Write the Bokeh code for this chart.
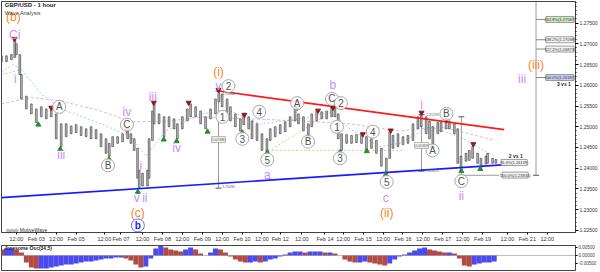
from bokeh.plotting import figure
from bokeh.layouts import column
from bokeh.models import ColumnDataSource, Range1d, FixedTicker, PrintfTickFormatter, Span, Label
from bokeh.core.properties import value
from bokeh.embed import file_html
from bokeh.resources import INLINE

FONT = "Liberation Sans"

# ---------------- data (hourly bar index, GBP/USD price) ----------------
candle_bar = [0, 3, 6, 8, 9, 11, 12, 15, 18, 21, 24, 27, 30, 33, 36, 39, 42, 45, 48, 51, 54, 57, 60, 63, 65, 67, 70, 73, 76, 78,
              80, 82, 83, 85, 88, 89, 91, 92, 95, 98, 101, 104, 106, 109, 112, 114, 117, 120, 123, 126, 129, 131, 133, 136, 138,
              141, 144, 146, 149, 151, 154, 157, 160, 162, 165, 168, 171, 174, 177, 179, 182, 185, 187, 190, 193, 196, 199, 201,
              203, 205, 208, 211, 214, 217, 220, 223, 226, 229, 232, 234, 236, 239, 242, 245, 248, 251, 253, 256, 258, 260, 263,
              265, 268, 270, 273, 275, 277, 280, 282, 284, 287, 289, 292, 293, 296, 298]
candle_high = [1.2671, 1.2671, 1.2674, 1.2709, 1.2700, 1.2674, 1.2626, 1.2574, 1.2555, 1.2543, 1.2548, 1.2543, 1.2548, 1.2531,
               1.2507, 1.2507, 1.2502, 1.2505, 1.2500, 1.2495, 1.2500, 1.2493, 1.2483, 1.2471, 1.2460, 1.2476, 1.2476, 1.2483,
               1.2493, 1.2483, 1.2471, 1.2448, 1.2395, 1.2388, 1.2395, 1.2471, 1.2538, 1.2555, 1.2531, 1.2524, 1.2524, 1.2519,
               1.2507, 1.2524, 1.2543, 1.2555, 1.2548, 1.2538, 1.2524, 1.2543, 1.2567, 1.2586, 1.2579, 1.2567, 1.2548, 1.2531,
               1.2519, 1.2529, 1.2524, 1.2514, 1.2507, 1.2483, 1.2471, 1.2495, 1.2500, 1.2505, 1.2512, 1.2524, 1.2543, 1.2531,
               1.2524, 1.2507, 1.2531, 1.2538, 1.2536, 1.2538, 1.2548, 1.2548, 1.2531, 1.2483, 1.2481, 1.2479, 1.2481, 1.2481,
               1.2476, 1.2471, 1.2467, 1.2448, 1.2424, 1.2488, 1.2479, 1.2483, 1.2476, 1.2479, 1.2507, 1.2524, 1.2531, 1.2524,
               1.2514, 1.2500, 1.2510, 1.2510, 1.2514, 1.2514, 1.2507, 1.2495, 1.2429, 1.2436, 1.2443, 1.2452, 1.2436, 1.2424,
               1.2429, 1.2436, 1.2424, 1.2421]
candle_low = [1.2657, 1.2657, 1.2662, 1.2667, 1.2674, 1.2626, 1.2567, 1.2543, 1.2531, 1.2510, 1.2524, 1.2519, 1.2524, 1.2471,
              1.2452, 1.2476, 1.2483, 1.2486, 1.2479, 1.2476, 1.2471, 1.2471, 1.2452, 1.2436, 1.2429, 1.2452, 1.2460, 1.2464,
              1.2471, 1.2460, 1.2443, 1.2376, 1.2352, 1.2357, 1.2357, 1.2376, 1.2467, 1.2507, 1.2507, 1.2476, 1.2500, 1.2495,
              1.2471, 1.2495, 1.2514, 1.2524, 1.2524, 1.2507, 1.2495, 1.2519, 1.2531, 1.2560, 1.2548, 1.2524, 1.2514, 1.2500,
              1.2490, 1.2505, 1.2495, 1.2471, 1.2467, 1.2443, 1.2440, 1.2467, 1.2476, 1.2483, 1.2488, 1.2500, 1.2514, 1.2507,
              1.2490, 1.2476, 1.2500, 1.2514, 1.2519, 1.2519, 1.2524, 1.2524, 1.2471, 1.2443, 1.2460, 1.2460, 1.2462, 1.2460,
              1.2443, 1.2448, 1.2436, 1.2405, 1.2386, 1.2424, 1.2448, 1.2452, 1.2457, 1.2460, 1.2467, 1.2495, 1.2500, 1.2483,
              1.2471, 1.2455, 1.2483, 1.2488, 1.2495, 1.2495, 1.2483, 1.2412, 1.2395, 1.2417, 1.2419, 1.2424, 1.2412, 1.2400,
              1.2410, 1.2412, 1.2412, 1.2412]

ao_bar = list(range(0, 300, 3))
ao_value = [0.0038, 0.0044, 0.0044, 0.0038, 0.0019, -0.0044, -0.0075, -0.0081, -0.0081, -0.0081,
            -0.0075, -0.0069, -0.0063, -0.0056, -0.0056, -0.0050, -0.0044, -0.0038, -0.0038, -0.0031,
            -0.0025, -0.0019, -0.0019, -0.0013, -0.0013, -0.0019, -0.0031, -0.0056, -0.0075, -0.0069,
            -0.0019, 0.0044, 0.0063, 0.0050, 0.0038, 0.0031, 0.0025, 0.0038, 0.0050, 0.0038,
            0.0013, 0.0000, 0.0019, 0.0044, 0.0038, 0.0019, -0.0006, -0.0025, -0.0038, -0.0044,
            -0.0044, -0.0038, -0.0044, -0.0038, -0.0025, -0.0019, -0.0006, 0.0006, 0.0019, 0.0025,
            0.0025, 0.0019, 0.0025, 0.0025, 0.0025, 0.0019, 0.0019, 0.0013, 0.0000, -0.0025,
            -0.0038, -0.0044, -0.0044, -0.0038, -0.0044, -0.0050, -0.0056, -0.0063, -0.0050, -0.0025,
            -0.0006, 0.0006, 0.0019, 0.0031, 0.0044, 0.0050, 0.0038, 0.0031, 0.0025, 0.0019,
            0.0019, 0.0013, -0.0019, -0.0063, -0.0069, -0.0056, -0.0050, -0.0044, -0.0044, -0.0038]

tick_bar = [9, 21, 33, 45, 62, 72, 85, 97, 109, 121, 133, 145, 157, 168, 181, 195, 206, 218, 230, 242, 254, 266, 278, 290, 305, 317, 329]
tick_label = ["12:00", "Feb 03", "12:00", "Feb 05", "12:00", "Feb 07", "12:00", "Feb 08", "12:00", "Feb 09", "12:00", "Feb 10",
              "12:00", "Feb 12", "12:00", "Feb 14", "12:00", "Feb 15", "12:00", "Feb 16", "12:00", "Feb 17", "12:00", "Feb 19",
              "12:00", "Feb 21", "12:00"]
price_ticks = [1.225, 1.230, 1.235, 1.240, 1.245, 1.250, 1.255, 1.260, 1.265, 1.270, 1.275]

# moving averages / helper lines
ma_slow_bar = [0, 18, 36, 60, 78, 102, 120, 150, 180, 210, 240, 264, 282, 297]
ma_slow = [1.2555, 1.2571, 1.2562, 1.2538, 1.2512, 1.2514, 1.2524, 1.2519, 1.2514, 1.2507, 1.2490, 1.2500, 1.2483, 1.2467]
ma_fast_bar = [0, 7, 12, 24, 36, 60, 78, 87, 93, 99, 120, 138, 156, 180, 198, 210, 228, 240, 258, 276, 297]
ma_fast = [1.2633, 1.2650, 1.2638, 1.2579, 1.2543, 1.2507, 1.2476, 1.2429, 1.2460, 1.2490, 1.2531, 1.2538, 1.2507, 1.2519,
           1.2536, 1.2495, 1.2452, 1.2460, 1.2500, 1.2476, 1.2429]

# trend channel
support_bar = [0, 309]
support_price = [1.2329, 1.2410]
resist_bar = [131, 303]
resist_price = [1.2586, 1.2493]

# swing markers
high_mark_bar = [7.8, 30, 75.6, 91.8, 112.8, 130.8, 146.4, 178.2, 190.8, 199.8, 217.8, 234.6, 253.2, 268.2, 284.4]
high_mark_price = [1.2712, 1.2546, 1.2493, 1.2558, 1.2558, 1.2589, 1.2529, 1.2546, 1.2539, 1.2546, 1.2482, 1.2491, 1.2534, 1.2517, 1.2458]
low_mark_bar = [22.2, 35.4, 64.8, 82.2, 97.8, 105.6, 124.2, 145.2, 160.2, 184.8, 204, 220.2, 231.6, 259.8, 277.2, 288.6]
low_mark_price = [1.2505, 1.2446, 1.2422, 1.2343, 1.2469, 1.2465, 1.2488, 1.2486, 1.2438, 1.2474, 1.2438, 1.2441, 1.2384, 1.2453, 1.2393, 1.2398]

# wave labels
purple_text = ["Ci", "i", "iii", "iv", "v", "ii", "i", "iii", "iv", "v", "a", "b", "c", "i", "ii", "iii"]
purple_bar = [8, 8.4, 36, 75.6, 81.6, 86.4, 84, 91.2, 105.6, 130.8, 160.2, 199.8, 231.6, 253.2, 277.2, 313.8]
purple_price = [1.2721, 1.2614, 1.2431, 1.2536, 1.2329, 1.2329, 1.2405, 1.2571, 1.2448, 1.2598, 1.2383, 1.2600, 1.2329, 1.2552, 1.2333, 1.2614]
orange_text = ["(b)", "(c)", "(i)", "(ii)", "(iii)"]
orange_bar = [7.2, 82.2, 130.8, 232.2, 322.2]
orange_price = [1.2764, 1.2293, 1.2631, 1.2293, 1.2650]
circ_text = ["A", "B", "C", "2", "1", "3", "4", "5", "A", "B", "C", "2", "1", "3", "4", "5", "A", "B", "C"]
circ_bar = [34.8, 64.2, 75.6, 136.8, 133.2, 145.2, 155.4, 160.2, 178.2, 184.8, 199.2, 204.6, 202.2, 204, 223.8, 232.2, 259.8, 268.2, 277.2]
circ_price = [1.2548, 1.2407, 1.2505, 1.2598, 1.2524, 1.2471, 1.2536, 1.2421, 1.2557, 1.2464, 1.2567, 1.2557, 1.2500, 1.2424,
              1.2488, 1.2367, 1.2443, 1.2531, 1.2369]

# fibonacci projections
fib_label = ["161.8%(1.27587)", "138.2%(1.27098)", "127.2%(1.26873)", "100.0%(1.26187)"]
fib_price = [1.27587, 1.27098, 1.26873, 1.26187]
fib_fill = ["#cdebc4", "#f4f4f4", "#f4f4f4", "#c9cdf2"]
retr_label = ["76.4%(1.24139)", "100.0%(1.23834)"]
retr_price = [1.24139, 1.23834]

# right-axis price tags
tag_text = ["1.24693", "1.24431", "1.24262", "1.24170", "1.23980"]
tag_price = [1.2469, 1.2443, 1.2426, 1.2417, 1.2398]
tag_fill = ["#ffffff", "#cfe9f2", "#ffffff", "#c4c4f4", "#f4c4c4"]

PURPLE = "#c58cff"
ORANGE = "#f5842a"

p = figure(width=600, height=244, x_range=Range1d(0, 346), y_range=Range1d(1.2245, 1.2802),
           output_backend="svg", toolbar_location=None, y_axis_location="right",
           min_border_left=1, min_border_right=22, min_border_top=1, min_border_bottom=8)
p.grid.visible = False
p.outline_line_color = "#444"
p.background_fill_color = "white"

# axes
p.xaxis.ticker = FixedTicker(ticks=tick_bar)
p.xaxis.major_label_overrides = {t: l for t, l in zip(tick_bar, tick_label)}
p.xaxis.major_label_text_font_size = "5.5px"
p.xaxis.major_label_text_font = FONT
p.xaxis.major_label_text_color = "#333"
p.xaxis.major_tick_out = 2
p.xaxis.major_tick_in = 0
p.xaxis.minor_tick_line_color = None
p.xaxis.major_label_standoff = 1
p.xaxis.axis_line_color = "#444"

minor = [round(1.224 + 0.001 * i, 3) for i in range(57)]
p.yaxis.ticker = FixedTicker(ticks=price_ticks, minor_ticks=minor)
p.yaxis.formatter = PrintfTickFormatter(format="%.5f")
p.yaxis.major_label_text_font_size = "5px"
p.yaxis.major_label_text_font = FONT
p.yaxis.major_label_text_color = "#333"
p.yaxis.major_tick_out = 3
p.yaxis.major_tick_in = 0
p.yaxis.minor_tick_out = 1
p.yaxis.minor_tick_in = 0
p.yaxis.major_label_standoff = 1
p.yaxis.axis_line_color = "#444"

# helper dashed lines
p.line(ma_slow_bar, ma_slow, line_color="#eab2d2", line_dash="3 2", line_width=1)
p.line(ma_fast_bar, ma_fast, line_color="#aacbf2", line_dash="2 2", line_width=1)
p.multi_line([[0, 12], [160.8, 199.8], [160.8, 243]], [[1.2626, 1.2638], [1.2440, 1.2538], [1.2443, 1.2443]],
             line_color="#cfcf86", line_dash="2 2", line_width=1)

# measurement verticals
vx = [130.8, 253.2, 277.2, 322.2]
vtop = [1.2586, 1.2529, 1.2524, 1.2802]
vbot = [1.2352, 1.2393, 1.2383, 1.2383]
p.segment(vx, vtop, vx, vbot, line_color="#9a9a9a", line_width=1)
p.scatter([v for v in vx] + vx[:3], vbot + vtop[:3], marker="dash", size=6, line_color="#555")
p.segment([277.2], [1.2383], [300], [1.2383], line_color="#9a9a9a", line_width=1)
p.segment([322.2] * 4, fib_price, [328] * 4, fib_price, line_color="#888", line_width=1)

# candles
src = ColumnDataSource(dict(x=candle_bar, hi=candle_high, lo=candle_low))
p.segment("x", "hi", "x", "lo", source=src, line_color="#2a2a2a", line_width=0.8)
p.vbar(x="x", top="hi", bottom="lo", width=1.1, source=src, fill_color="#b4b4b4", line_color="#303030", line_width=0.5)

# trend channel
p.line(support_bar, support_price, line_color="#1a1aff", line_width=1.6)
p.line(resist_bar, resist_price, line_color="#ff1a1a", line_width=1.6)

# swing markers
p.scatter(high_mark_bar, high_mark_price, marker="inverted_triangle", size=5, fill_color="#8e1b1b", line_color="#8e1b1b")
p.scatter(low_mark_bar, low_mark_price, marker="triangle", size=5, fill_color="#2b8a2b", line_color="#2b8a2b")

# wave labels
p.text(purple_bar, purple_price, text=purple_text, text_color=PURPLE, text_font=value(FONT), text_font_size="12px",
       text_align="center", text_baseline="middle")
p.text(orange_bar, orange_price, text=orange_text, text_color=ORANGE, text_font=value(FONT), text_font_size="12px",
       text_align="center", text_baseline="middle")
p.scatter(circ_bar, circ_price, marker="circle", size=13, fill_color="white", fill_alpha=0.85, line_color="#a8a8a8", line_width=1)
p.text(circ_bar, circ_price, text=circ_text, text_color="#555", text_font=value(FONT), text_font_size="10px",
       text_align="center", text_baseline="middle")
p.scatter([82.2], [1.2262], marker="circle", size=13, fill_color="white", line_color="#6a6aff", line_width=1)
p.text([82.2], [1.2262], text=["b"], text_color="#1a1aff", text_font=value(FONT), text_font_size="10px",
       text_font_style="bold", text_align="center", text_baseline="middle")

# fib boxes
p.rect([336.6] * 4, fib_price, width=28, height=6, width_units="screen", height_units="screen",
       fill_color=fib_fill, line_color="#777", line_width=0.7)
p.text([336.6] * 4, fib_price, text=fib_label, text_font=value(FONT), text_font_size="4px", text_color="#333",
       text_align="center", text_baseline="middle")
p.rect([309, 309.6], retr_price, width=26, height=6, width_units="screen", height_units="screen",
       fill_color="#f4f4f4", line_color="#777", line_width=0.7)
p.text([309, 309.6], retr_price, text=retr_label, text_font=value(FONT), text_font_size="4px", text_color="#333",
       text_align="center", text_baseline="middle")
p.text([310, 339], [1.2429, 1.2602], text=["2 vs 1", "3 vs 1"], text_font=value(FONT), text_font_size="5px",
       text_font_style="bold", text_color="#222", text_align="center", text_baseline="middle")

# small measurement tags
p.rect([130.8, 253.2], [1.2469, 1.2455], width=14, height=6, width_units="screen", height_units="screen",
       fill_color="#f4f4f4", line_color="#999", line_width=0.7)
p.text([130.8, 253.2], [1.2469, 1.2455], text=["0.02386", "0.01369"], text_font=value(FONT), text_font_size="3.5px",
       text_color="#555", text_align="center", text_baseline="middle")
p.text([133, 133, 256, 256], [1.2580, 1.2355, 1.2529, 1.2395], text=["1.25866", "1.23480", "1.25293", "1.23924"],
       text_font=value(FONT), text_font_size="3.5px", text_color="#666", text_align="left", text_baseline="middle")

# header
p.text([2], [1.2794], text=["GBP/USD - 1 hour"], text_font=value(FONT), text_font_size="6px", text_font_style="bold",
       text_color="#222", text_align="left", text_baseline="middle")
p.text([2], [1.2775], text=["Wave Analysis"], text_font=value(FONT), text_font_size="5.5px",
       text_color="#444", text_align="left", text_baseline="middle")
p.text([3], [1.2252], text=["\u25ce\u25ce\u25ce MotiveWave"], text_font=value(FONT), text_font_size="5px",
       text_color="#333", text_align="left", text_baseline="middle")

for t, pr, fc in zip(tag_text, tag_price, tag_fill):
    p.add_layout(Label(x=347.2, y=pr, text=t, text_font=FONT, text_font_size="4.5px", text_color="#222",
                       text_baseline="middle", background_fill_color=fc, border_line_color="#666"))

# ---------------- oscillator ----------------
ao_color = ["#b24a46" if i > 0 and ao_value[i] < ao_value[i - 1] else "#4a4af0" for i in range(len(ao_value))]
ao_color[0] = "#b24a46"
q = figure(width=600, height=28, x_range=p.x_range, y_range=Range1d(-0.0094, 0.00625),
           output_backend="svg", toolbar_location=None, y_axis_location="right", x_axis_type=None,
           min_border_left=1, min_border_right=22, min_border_top=1, min_border_bottom=2)
q.grid.visible = False
q.outline_line_color = "#444"
q.vbar(x=ao_bar, top=ao_value, bottom=0, width=3, fill_color=ao_color, line_color=None)
q.add_layout(Span(location=0, dimension="width", line_color="#777", line_dash="1 1", line_width=1))
q.yaxis.ticker = FixedTicker(ticks=[-0.005, 0.0, 0.005])
q.yaxis.formatter = PrintfTickFormatter(format="%.5f")
q.yaxis.major_label_text_font_size = "4.5px"
q.yaxis.major_label_text_font = FONT
q.yaxis.major_tick_out = 2
q.yaxis.major_tick_in = 0
q.yaxis.minor_tick_line_color = None
q.yaxis.major_label_standoff = 1
q.yaxis.axis_line_color = "#444"
q.text([2], [0.0045], text=["Awesome Osc(34,5)"], text_font=value(FONT), text_font_size="5px", text_font_style="bold",
       text_color="#222", text_align="left", text_baseline="middle")

layout = column(p, q, spacing=0)
open("out.html", "w").write(file_html(layout, INLINE))
